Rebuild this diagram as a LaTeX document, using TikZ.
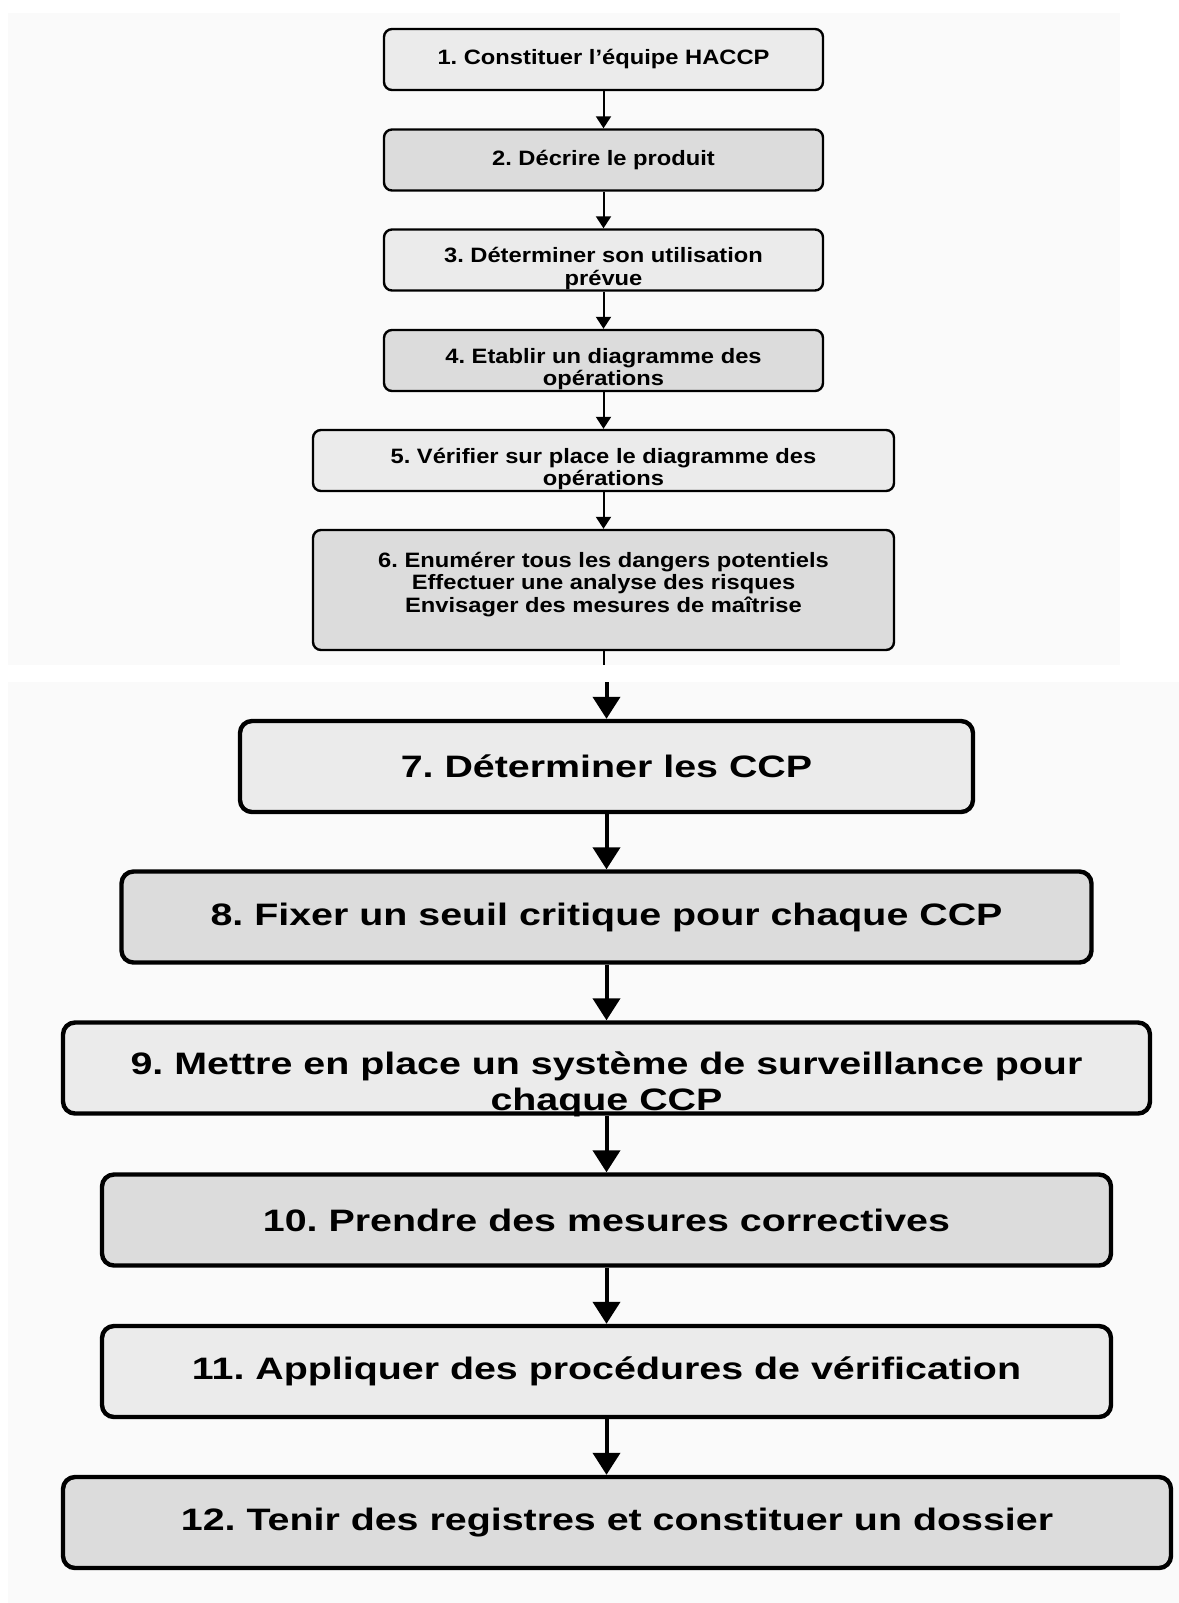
\documentclass[tikz,border=0pt]{standalone}
\usepackage{fontspec}
\usepackage{xcolor}
\usepackage{tikz}
\usetikzlibrary{arrows.meta}
\frenchspacing

\newfontfamily\smallboxfont[FakeStretch=1.14]{Liberation Sans}
\newfontfamily\bigboxfont[FakeStretch=1.27]{Liberation Sans}

\definecolor{panelgray}{HTML}{FAFAFA}
\definecolor{lightfill}{HTML}{EBEBEB}
\definecolor{darkfill}{HTML}{DCDCDC}

\tikzset{
  smallstep/.style={draw, line width=1.2pt, rounded corners=4pt, inner sep=0pt,
    align=center, minimum height=30.5pt, minimum width=219.5pt,
    font=\smallboxfont\bfseries\fontsize{10.4}{11.25}\selectfont},
  bigstep/.style={draw, line width=2.2pt, rounded corners=6pt, inner sep=0pt,
    align=center, minimum height=45.5pt,
    font=\bigboxfont\bfseries\fontsize{15.5}{18}\selectfont},
  twolines/.style={text height=25pt, text depth=0pt},
  smallflow/.style={line width=1pt, -{Triangle[width=7.5pt,length=6pt]}},
  bigflow/.style={line width=2pt, -{Triangle[width=13.5pt,length=11pt]}},
}

\begin{document}
\begin{tikzpicture}[x=0.5pt,y=-0.5pt]
\useasboundingbox (0,0) rectangle (1179,1603);
% two stacked panels
\fill[white] (0,0) rectangle (1179,1603);
\fill[panelgray] (8,13) rectangle (1120,665);
\fill[panelgray] (8,682) rectangle (1179,1603);

% steps 1-6
\node[smallstep, fill=lightfill] (s1) at (603.5,59.5) {1. Constituer l’équipe HACCP};
\node[smallstep, fill=darkfill] (s2) at (603.5,160) {2. Décrire le produit};
\node[smallstep, fill=lightfill, twolines] (s3) at (603.5,260) {3. Déterminer son utilisation\\prévue};
\node[smallstep, fill=darkfill, twolines] (s4) at (603.5,360.5) {4. Etablir un diagramme des\\opérations};
\node[smallstep, fill=lightfill, twolines, minimum width=290.5pt] (s5) at (603.5,460.5)
  {5. Vérifier sur place le diagramme des\\opérations};
\node[smallstep, fill=darkfill, minimum width=290.5pt, minimum height=60pt,
  text height=22.2pt, text depth=0pt] (s6) at (603.5,590)
  {6. Enumérer tous les dangers potentiels\\Effectuer une analyse des risques\\Envisager des mesures de maîtrise};

% steps 7-12
\node[bigstep, fill=lightfill, minimum width=366.5pt] (b7) at (606.5,766.5) {7. Déterminer les CCP};
\node[bigstep, fill=darkfill, minimum width=485pt] (b8) at (606.5,917) {8. Fixer un seuil critique pour chaque CCP};
\node[bigstep, fill=lightfill, minimum width=543.5pt, text height=42.2pt, text depth=0pt] (b9) at (606.5,1068)
  {9. Mettre en place un système de surveillance pour\\chaque CCP};
\node[bigstep, fill=darkfill, minimum width=504.5pt] (b10) at (606.5,1220) {10. Prendre des mesures correctives};
\node[bigstep, fill=lightfill, minimum width=504.5pt] (b11) at (606.5,1371.5) {11. Appliquer des procédures de vérification};
\node[bigstep, fill=darkfill, minimum width=554pt] (b12) at (617,1522.5) {12. Tenir des registres et constituer un dossier};

% arrows
\draw[smallflow] (s1.south) -- (s2.north);
\draw[smallflow] (s2.south) -- (s3.north);
\draw[smallflow] (s3.south) -- (s4.north);
\draw[smallflow] (s4.south) -- (s5.north);
\draw[smallflow] (s5.south) -- (s6.north);
\coordinate (cut1) at (603.5,665);
\coordinate (cut2) at (606.5,682);
\draw[line width=1pt] (s6.south) -- (cut1);
\draw[bigflow] (cut2) -- (b7.north);
\draw[bigflow] (b7.south) -- (b8.north);
\draw[bigflow] (b8.south) -- (b9.north);
\draw[bigflow] (b9.south) -- (b10.north);
\draw[bigflow] (b10.south) -- (b11.north);
\draw[bigflow] (b11.south) -- (b11.south |- b12.north);
\end{tikzpicture}
\end{document}
